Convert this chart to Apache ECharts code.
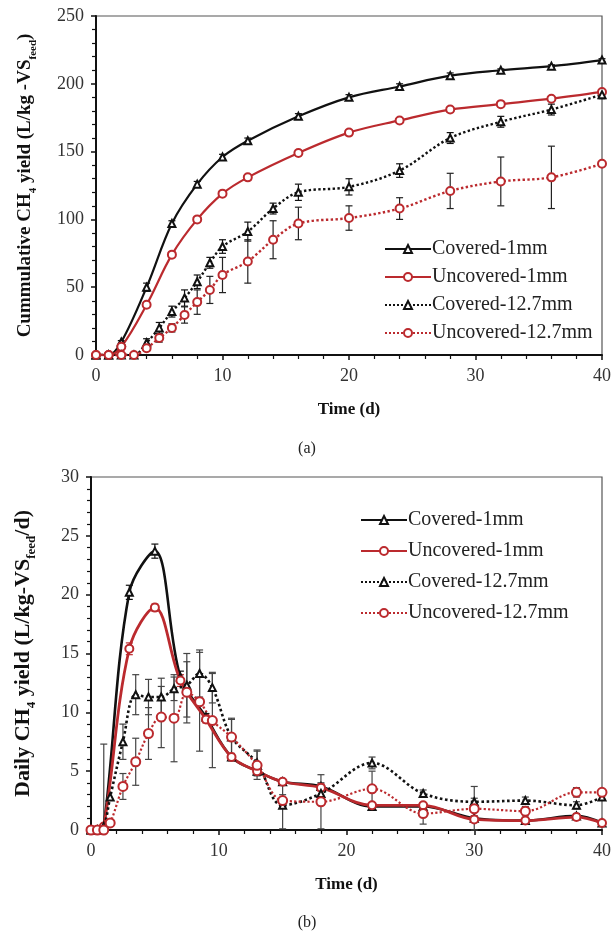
<!DOCTYPE html>
<html>
<head>
<meta charset="utf-8">
<script src="https://cdn.jsdelivr.net/npm/echarts@6/dist/echarts.min.js"></script>
<style>
  html, body { margin: 0; padding: 0; background: #fff; }
  #chart { width: 614px; height: 937px; }
</style>
</head>
<body>
<div id="chart"></div>
<script>
// (a) cumulative yield
const cumDays1 = [0, 1, 2, 4, 6, 8, 10, 12, 16, 20, 24, 28, 32, 36, 40];
const cumCovered1 = [0, 0, 9.6, 50, 97, 126, 146, 158, 176, 190, 198, 206, 210, 213, 217.5];
const cumUncovered1 = [0, 0, 6, 37, 74, 100, 119, 131, 149, 164, 173, 181, 185, 189, 194];
const cumErrCovered1 = [0, 0, 1, 3, 2, 2, 2, 2, 2, 2, 2, 2, 1, 1, 1];
const cumErrUncovered1 = [0, 0, 1, 2, 2, 2, 2, 2, 2, 2, 2, 2, 1, 1, 1];

const cumDays12 = [0, 1, 2, 3, 4, 5, 6, 7, 8, 9, 10, 12, 14, 16, 20, 24, 28, 32, 36, 40];
const cumCovered12 = [0, 0, 0, 0, 9, 20, 32, 42, 54, 68, 80, 91, 108, 120, 124, 136, 160, 172, 181, 192];
const cumUncovered12 = [0, 0, 0, 0, 5, 12.5, 20, 29.5, 39, 48, 59, 69, 85, 97, 101, 108, 121, 128, 131, 141];
const cumErrCovered12 = [0, 0, 0, 0, 3, 4, 4, 6, 5, 4, 5, 7, 4, 6, 6, 5, 4, 4, 4, 3];
const cumErrUncovered12 = [0, 0, 0, 0, 2, 3, 3, 6, 9, 10, 13, 16, 14, 12, 9, 8, 13, 18, 23, 0];

// (b) daily yield
const dayDays1 = [0, 0.5, 1, 3, 5, 7, 9, 11, 13, 15, 18, 22, 26, 30, 34, 38, 40];
const dayCovered1 = [0, 0, 0.3, 20.2, 23.7, 13.0, 9.6, 6.2, 5.0, 4.1, 3.7, 2.0, 2.0, 1.0, 0.8, 1.2, 0.6];
const dayUncovered1 = [0, 0, 0.3, 15.4, 18.9, 12.7, 9.4, 6.2, 5.0, 4.1, 3.6, 2.1, 2.1, 0.9, 0.8, 1.1, 0.6];
const dayErrCovered1 = [0, 0, 0, 0.6, 0.6, 0.5, 0.3, 0.3, 0.3, 0.2, 0.3, 0.2, 0.2, 0.2, 0.2, 0.2, 0];
const dayErrUncovered1 = [0, 0, 0, 0.5, 0.3, 0.5, 0.3, 0.3, 0.3, 0.2, 0.3, 0.2, 0.2, 0.2, 0.2, 0.2, 0];

const dayDays12 = [0, 0.5, 1, 1.5, 2.5, 3.5, 4.5, 5.5, 6.5, 7.5, 8.5, 9.5, 11, 13, 15, 18, 22, 26, 30, 34, 38, 40];
const dayCovered12 = [0, 0, 0.3, 2.8, 7.5, 11.5, 11.3, 11.3, 12.0, 12.3, 13.3, 12.1, 7.9, 5.7, 2.1, 3.1, 5.7, 3.1, 2.4, 2.5, 2.1, 2.8];
const dayUncovered12 = [0, 0, 0, 0.6, 3.7, 5.8, 8.2, 9.6, 9.5, 11.7, 10.9, 9.3, 7.9, 5.5, 2.5, 2.4, 3.5, 1.4, 1.8, 1.6, 3.2, 3.2];
const dayErrCovered12 = [0, 0, 7.0, 0, 1.5, 1.7, 1.5, 1.6, 1.0, 2.7, 2.0, 1.3, 1.6, 1.1, 2.0, 0, 0.5, 0.3, 0.3, 0.3, 0.3, 0];
const dayErrUncovered12 = [0, 0, 0, 0, 1.1, 2.0, 2.2, 2.6, 3.7, 2.6, 4.2, 4.0, 1.5, 1.2, 0.5, 2.3, 1.5, 0.9, 1.9, 0.4, 0.4, 0];

const cumTicks = [0, 50, 100, 150, 200, 250];
const dayTicks = [0, 5, 10, 15, 20, 25, 30];
const timeTicks = [0, 10, 20, 30, 40];

const names = ['Covered-1mm', 'Uncovered-1mm', 'Covered-12.7mm', 'Uncovered-12.7mm'];
const BLACK = '#111';
const RED = '#bb2a2e';
const serif = '"Liberation Serif", "DejaVu Serif", serif';

const pair = (xs, ys) => xs.map((x, i) => [x, ys[i]]);

function lineSeries(name, xs, ys, color, dotted, symbol, idx, size, width) {
  return {
    name: name, type: 'line', xAxisIndex: idx, yAxisIndex: idx,
    data: pair(xs, ys), smooth: 0.35,
    symbol: symbol, symbolSize: size, showAllSymbol: true,
    lineStyle: { color: color, width: width, type: dotted ? 'dotted' : 'solid' },
    itemStyle: { color: color, borderColor: color, borderWidth: 1.3 },
    z: 3
  };
}

function errSeries(xs, ys, es, color, idx) {
  const data = [];
  xs.forEach((x, i) => { if (es[i] > 0) data.push([x, ys[i] - es[i], ys[i] + es[i]]); });
  return {
    type: 'custom', xAxisIndex: idx, yAxisIndex: idx, silent: true, z: 2,
    data: data,
    renderItem: (params, api) => {
      const x = api.value(0);
      const lo = Math.max(0, api.value(1));
      const hi = api.value(2);
      const a = api.coord([x, hi]);
      const b = api.coord([x, lo]);
      const w = 3.5;
      const st = { stroke: color, lineWidth: 1.2 };
      return {
        type: 'group',
        children: [
          { type: 'line', shape: { x1: a[0], y1: a[1], x2: b[0], y2: b[1] }, style: st },
          { type: 'line', shape: { x1: a[0] - w, y1: a[1], x2: a[0] + w, y2: a[1] }, style: st },
          { type: 'line', shape: { x1: b[0] - w, y1: b[1], x2: b[0] + w, y2: b[1] }, style: st }
        ]
      };
    }
  };
}

function xAxis(idx) {
  return {
    type: 'value', gridIndex: idx, min: 0, max: 40, interval: 10,
    name: 'Time (d)', nameLocation: 'middle', nameGap: 46,
    nameTextStyle: { fontFamily: serif, fontWeight: 'bold', fontSize: 17, color: '#111' },
    axisLine: { lineStyle: { color: '#111', width: 2 } },
    axisTick: { inside: false, length: 5, lineStyle: { color: '#111', width: 1.5 } },
    minorTick: { show: true, splitNumber: 5, length: 4, lineStyle: { color: '#111', width: 1.2 } },
    axisLabel: {
      fontFamily: serif, fontSize: 18, color: '#333', margin: 12,
      formatter: v => timeTicks.includes(v) ? String(v) : ''
    },
    splitLine: { show: false }
  };
}

function yAxis(idx, max, interval, ticks, nameRich, gap, fs) {
  return {
    type: 'value', gridIndex: idx, min: 0, max: max, interval: interval,
    name: nameRich, nameLocation: 'middle', nameGap: gap, nameRotate: 90,
    nameTextStyle: {
      fontFamily: serif, fontWeight: 'bold', fontSize: fs, color: '#111',
      rich: {
        b: { fontFamily: serif, fontWeight: 'bold', fontSize: fs, color: '#111', lineHeight: fs + 4 },
        s: { fontFamily: serif, fontWeight: 'bold', fontSize: Math.round(fs * 0.6), color: '#111', verticalAlign: 'bottom', lineHeight: fs + 4, padding: [0, 0, -2, 0] }
      }
    },
    axisLine: { lineStyle: { color: '#111', width: 2 } },
    axisTick: { inside: false, length: 5, lineStyle: { color: '#111', width: 1.5 } },
    minorTick: { show: true, splitNumber: 5, length: 4, lineStyle: { color: '#111', width: 1.2 } },
    axisLabel: {
      fontFamily: serif, fontSize: 18, color: '#333', margin: 12,
      formatter: v => ticks.includes(v) ? String(v) : ''
    },
    splitLine: { show: false }
  };
}

function legend(left, top, gap) {
  return {
    data: names, orient: 'vertical', left: left, top: top, itemGap: gap,
    itemWidth: 46, itemHeight: 10, selectedMode: false,
    textStyle: { fontFamily: serif, fontSize: 20, color: '#222', padding: [0, 0, 0, -4] }
  };
}

const chart = echarts.init(document.getElementById('chart'), null, { renderer: 'canvas' });
chart.setOption({
  backgroundColor: '#fff',
  animation: false,
  grid: [
    { left: 96, top: 16, width: 508, height: 339, show: true, borderColor: '#555', borderWidth: 1.2 },
    { left: 91, top: 477, width: 515, height: 353, show: true, borderColor: '#555', borderWidth: 1.2 }
  ],
  xAxis: [xAxis(0), xAxis(1)],
  yAxis: [
    yAxis(0, 250, 50, cumTicks, '{b|Cummulative CH}{s|4}{b| yield (L/kg -VS}{s|feed}{b|)}', 59, 19),
    yAxis(1, 30, 5, dayTicks, '{b|Daily CH}{s|4}{b| yield (L/kg-VS}{s|feed}{b|/d)}', 55, 22)
  ],
  legend: [legend(379, 234, 8), legend(355, 505, 11)],
  graphic: [
    { type: 'text', left: 'center', top: 441, style: { text: '(a)', font: '16px ' + serif, fill: '#222' } },
    { type: 'text', left: 'center', top: 915, style: { text: '(b)', font: '16px ' + serif, fill: '#222' } }
  ],
  series: [
    lineSeries(names[0], cumDays1, cumCovered1, BLACK, false, 'emptyTriangle', 0, 7, 2.2),
    lineSeries(names[1], cumDays1, cumUncovered1, RED, false, 'emptyCircle', 0, 8, 2.2),
    lineSeries(names[2], cumDays12, cumCovered12, BLACK, true, 'emptyTriangle', 0, 7, 2.4),
    lineSeries(names[3], cumDays12, cumUncovered12, RED, true, 'emptyCircle', 0, 8, 2.4),
    errSeries(cumDays1, cumCovered1, cumErrCovered1, BLACK, 0),
    errSeries(cumDays1, cumUncovered1, cumErrUncovered1, RED, 0),
    errSeries(cumDays12, cumCovered12, cumErrCovered12, BLACK, 0),
    errSeries(cumDays12, cumUncovered12, cumErrUncovered12, '#222', 0),

    lineSeries(names[0], dayDays1, dayCovered1, BLACK, false, 'emptyTriangle', 1, 7, 2.6),
    lineSeries(names[1], dayDays1, dayUncovered1, RED, false, 'emptyCircle', 1, 8, 2.8),
    lineSeries(names[2], dayDays12, dayCovered12, BLACK, true, 'emptyTriangle', 1, 7, 2.6),
    lineSeries(names[3], dayDays12, dayUncovered12, RED, true, 'emptyCircle', 1, 9, 2.2),
    errSeries(dayDays1, dayCovered1, dayErrCovered1, BLACK, 1),
    errSeries(dayDays1, dayUncovered1, dayErrUncovered1, RED, 1),
    errSeries(dayDays12, dayCovered12, dayErrCovered12, '#444', 1),
    errSeries(dayDays12, dayUncovered12, dayErrUncovered12, '#444', 1)
  ]
});
</script>
</body>
</html>
